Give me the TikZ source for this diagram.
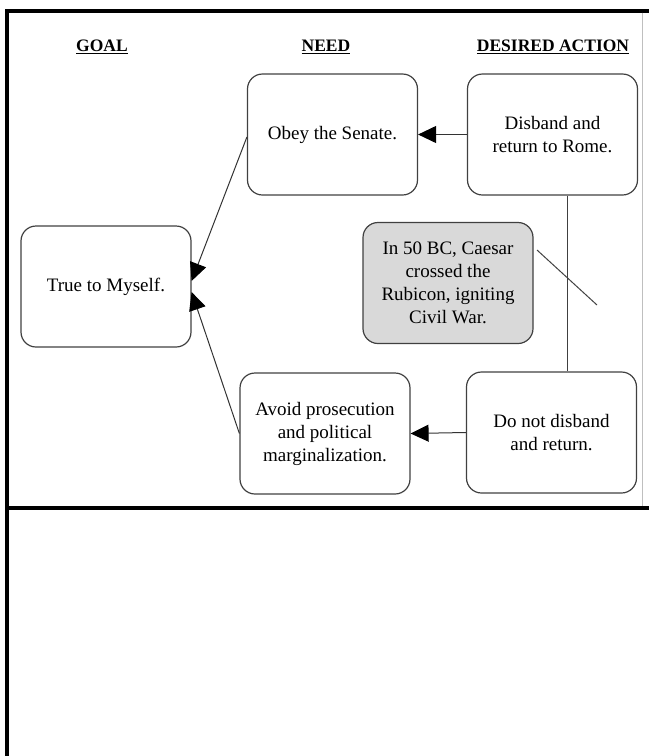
\documentclass[tikz,border=0pt]{standalone}
\usepackage{fontspec}
\setmainfont{Liberation Serif}
\usetikzlibrary{arrows.meta}

\begin{document}
\begin{tikzpicture}[x=1pt,y=-1pt,
  box/.style={draw=black!75,line width=1.2pt,rounded corners=15pt,minimum width=170pt,minimum height=121pt,align=center,inner sep=2pt,font=\fontsize{19}{23}\selectfont},
  head/.style={font=\fontsize{17.5}{20}\selectfont\bfseries},
  link/.style={draw=black!80,line width=1pt,-{Triangle[length=18pt,width=17pt,fill=black,color=black]}},
  rule/.style={draw=black!75,line width=1pt}]
\useasboundingbox (0,0) rectangle (649,756);
\draw [line width=4pt] (7,756) -- (7,10.5) -- (649,10.5);
\draw [line width=4pt] (7,508) -- (649,508);
\draw [black!25,line width=0.6pt] (642,12.5) -- (642,506);
\node [head] (goalhead) at (102,47) {\underline{GOAL}};
\node [head] (needhead) at (326,47) {\underline{NEED}};
\node [head] (actionhead) at (553,47) {\underline{DESIRED ACTION}};
\node [box] (goal) at (106,286.5) {True to Myself.};
\node [box] (obey) at (332.5,134.5) {Obey the Senate.};
\node [box] (disband) at (552.5,134.5) {Disband and\\return to Rome.};
\node [box,fill=black!15] (rubicon) at (448,283) {In 50 BC, Caesar\\crossed the\\Rubicon, igniting\\Civil War.};
\node [box] (avoid) at (325,433.5) {Avoid prosecution\\and political\\marginalization.};
\node [box] (keep) at (551.5,432.5) {Do not disband\\and return.};
\draw [rule] ([xshift=14.5pt]disband.south) -- ([xshift=15.5pt]keep.north);
\draw [rule] (537,250) -- (597,305);
\draw [link] (disband.west) -- (obey.east);
\draw [link] (keep.west) -- (avoid.east);
\draw [link] ([yshift=-2.5pt]obey.west) -- ([yshift=5.5pt]goal.east);
\draw [link] (avoid.west) -- ([yshift=-5.5pt]goal.east);
\end{tikzpicture}
\end{document}
